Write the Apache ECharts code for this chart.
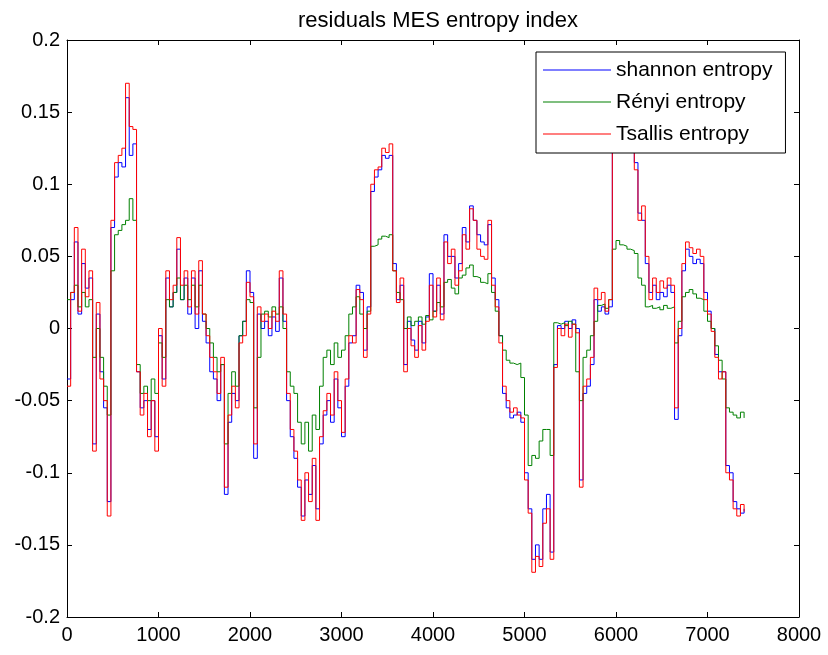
<!DOCTYPE html>
<html>
<head>
<meta charset="utf-8">
<script src="https://cdn.jsdelivr.net/npm/echarts@6/dist/echarts.min.js"></script>
<style>html,body{margin:0;padding:0;background:#fff}#chart{width:828px;height:655px}</style>
</head>
<body>
<div id="chart"></div>
<script>
var sampleX = [
0,40,80,120,160,200,240,280,320,360,
400,440,480,520,560,600,640,680,720,760,
800,840,880,920,960,1000,1040,1080,1120,1160,
1200,1240,1280,1320,1360,1400,1440,1480,1520,1560,
1600,1640,1680,1720,1760,1800,1840,1880,1920,1960,
2000,2040,2080,2120,2160,2200,2240,2280,2320,2360,
2400,2440,2480,2520,2560,2600,2640,2680,2720,2760,
2800,2840,2880,2920,2960,3000,3040,3080,3120,3160,
3200,3240,3280,3320,3360,3400,3440,3480,3520,3560,
3600,3640,3680,3720,3760,3800,3840,3880,3920,3960,
4000,4040,4080,4120,4160,4200,4240,4280,4320,4360,
4400,4440,4480,4520,4560,4600,4640,4680,4720,4760,
4800,4840,4880,4920,4960,5000,5040,5080,5120,5160,
5200,5240,5280,5320,5360,5400,5440,5480,5520,5560,
5600,5640,5680,5720,5760,5800,5840,5880,5920,5960,
6000,6040,6080,6120,6160,6200,6240,6280,6320,6360,
6400,6440,6480,6520,6560,6600,6640,6680,6720,6760,
6800,6840,6880,6920,6960,7000,7040,7080,7120,7160,
7200,7240,7280,7320,7360,7400];

var shannon = [
-0.035,0.02,0.06,0.01,0.045,0.028,0.035,-0.08,0.01,-0.03,
-0.055,-0.12,0.07,0.105,0.115,0.112,0.16,0.12,0.128,-0.03,
-0.055,-0.05,-0.07,-0.05,-0.075,-0.005,-0.035,0.035,0.015,0.025,
0.055,0.02,0.035,0.01,0.035,0.0,0.04,0.005,-0.01,-0.03,
-0.035,-0.05,-0.025,-0.115,-0.065,-0.045,-0.05,-0.005,0.005,0.04,
0.025,-0.09,0.01,0.0,0.005,-0.005,0.008,-0.002,0.035,0.005,
-0.05,-0.075,-0.09,-0.11,-0.13,-0.105,-0.115,-0.095,-0.125,-0.08,
-0.06,-0.05,-0.065,-0.035,-0.055,-0.075,-0.04,-0.01,-0.005,0.03,
0.025,-0.015,0.015,0.095,0.105,0.11,0.12,0.118,0.12,0.045,
0.02,0.03,-0.025,0.005,-0.008,-0.015,0.005,-0.01,0.008,0.038,
0.012,0.03,0.01,0.065,0.05,0.05,0.035,0.045,0.07,0.06,
0.085,0.075,0.065,0.06,0.058,0.072,0.035,0.02,-0.005,-0.045,
-0.055,-0.062,-0.06,-0.058,-0.065,-0.1,-0.125,-0.16,-0.15,-0.16,
-0.125,-0.115,-0.155,-0.025,0.002,0.0,0.005,0.0,0.006,0.0,
-0.105,-0.045,-0.04,-0.025,0.02,0.012,0.015,0.01,0.015,0.125,
0.135,0.145,0.14,0.135,0.13,0.115,0.08,0.075,0.045,0.025,
0.03,0.02,0.025,0.022,0.03,0.025,-0.063,-0.005,0.04,0.055,
0.05,0.045,0.048,0.045,0.025,0.012,0.0,-0.018,-0.03,-0.03,
-0.095,-0.1,-0.12,-0.125,-0.128,-0.125];

var renyi = [
0.02,0.025,0.03,0.015,0.025,0.015,0.02,-0.02,0.0,-0.02,
-0.04,-0.06,0.04,0.065,0.068,0.072,0.075,0.09,0.075,-0.025,
-0.045,-0.04,-0.05,-0.035,-0.045,-0.01,-0.02,0.02,0.015,0.025,
0.035,0.02,0.03,0.02,0.03,0.015,0.03,0.01,0.0,-0.01,
-0.02,-0.03,-0.025,-0.08,-0.045,-0.03,-0.04,-0.005,0.005,0.02,
0.018,-0.055,-0.02,0.01,0.012,0.008,0.015,0.01,0.015,0.0,
-0.03,-0.04,-0.045,-0.065,-0.08,-0.065,-0.085,-0.06,-0.07,-0.04,
-0.02,-0.015,-0.025,-0.01,-0.02,-0.015,-0.005,0.01,0.015,0.022,
0.01,0.0,0.012,0.057,0.058,0.062,0.064,0.063,0.065,0.04,
0.025,0.02,0.0,0.008,0.002,0.005,0.008,0.003,0.009,0.006,
0.012,0.018,0.015,0.032,0.034,0.028,0.024,0.035,0.037,0.042,
0.044,0.036,0.035,0.032,0.031,0.038,0.025,0.012,-0.005,-0.015,
-0.022,-0.024,-0.025,-0.024,-0.034,-0.06,-0.095,-0.088,-0.09,-0.078,
-0.07,-0.07,-0.088,0.004,0.003,0.004,0.002,0.005,0.003,-0.03,
-0.05,-0.02,-0.015,-0.005,0.005,0.016,0.017,0.014,0.02,0.055,
0.061,0.058,0.057,0.055,0.054,0.052,0.035,0.03,0.015,0.016,
0.014,0.015,0.013,0.016,0.014,0.015,-0.01,0.005,0.022,0.025,
0.027,0.024,0.021,0.02,0.012,0.005,0.0,-0.012,-0.022,-0.035,
-0.055,-0.058,-0.06,-0.062,-0.058,-0.062];

var tsallis = [
-0.04,0.025,0.07,0.012,0.055,0.022,0.04,-0.085,0.018,-0.035,
-0.05,-0.13,0.075,0.115,0.12,0.125,0.17,0.14,0.138,-0.03,
-0.06,-0.045,-0.075,-0.05,-0.085,0.0,-0.04,0.04,0.02,0.03,
0.063,0.03,0.04,0.015,0.04,0.01,0.047,0.01,-0.005,-0.02,
-0.03,-0.045,-0.02,-0.11,-0.06,-0.04,-0.055,-0.01,-0.005,0.032,
0.022,-0.08,0.015,0.005,0.01,0.0,0.012,0.005,0.04,0.01,
-0.045,-0.07,-0.085,-0.105,-0.133,-0.1,-0.12,-0.09,-0.133,-0.075,
-0.057,-0.045,-0.06,-0.03,-0.05,-0.072,-0.035,-0.005,-0.01,0.027,
0.02,-0.02,0.01,0.1,0.11,0.112,0.125,0.122,0.128,0.04,
0.018,0.035,-0.03,0.0,-0.012,-0.02,0.002,-0.015,0.005,0.03,
0.008,0.035,0.006,0.06,0.045,0.055,0.03,0.04,0.065,0.055,
0.083,0.075,0.055,0.05,0.048,0.075,0.03,0.015,-0.01,-0.04,
-0.05,-0.058,-0.055,-0.06,-0.062,-0.105,-0.128,-0.169,-0.158,-0.165,
-0.135,-0.125,-0.16,-0.027,0.0,-0.005,0.003,-0.006,0.003,-0.003,
-0.11,-0.04,-0.035,-0.02,0.028,0.02,0.025,0.012,0.02,0.13,
0.14,0.15,0.145,0.14,0.135,0.11,0.075,0.085,0.05,0.02,
0.035,0.025,0.033,0.028,0.035,0.03,-0.055,0.0,0.045,0.06,
0.056,0.052,0.055,0.05,0.02,0.01,-0.002,-0.02,-0.035,-0.03,
-0.1,-0.105,-0.125,-0.13,-0.122,-0.127];

var seriesNames = ['shannon entropy', 'Rényi entropy', 'Tsallis entropy'];
var seriesColors = ['#0000ff', '#008000', '#ff0000'];
var seriesValues = [shannon, renyi, tsallis];

function pairs(vals) {
  return vals.map(function (v, i) { return [sampleX[i], v]; });
}

var chart = echarts.init(document.getElementById('chart'), null, {renderer: 'canvas'});
var font = 'Liberation Sans, Arial, sans-serif';
var axisCommon = {
  axisLine: {show: true, onZero: false, lineStyle: {color: '#000', width: 1}},
  axisTick: {show: true, inside: true, length: 5, lineStyle: {color: '#000', width: 1}},
  splitLine: {show: false}
};
function yFmt(v) { return String(parseFloat(v.toFixed(2))); }
function xFmt(v) { return String(Math.round(v)); }

chart.setOption({
  backgroundColor: '#fff',
  animation: false,
  title: {
    text: 'residuals MES entropy index',
    left: 433, top: 5, textAlign: 'center',
    textStyle: {fontFamily: font, fontSize: 22, fontWeight: 'normal', color: '#000'}
  },
  legend: {
    orient: 'vertical',
    left: 536, top: 52,
    z: 20,
    padding: [7, 13, 8, 7],
    icon: 'rect',
    itemWidth: 68, itemHeight: 1, itemGap: 10, itemTextGap: 6,
    backgroundColor: '#fff', borderColor: '#000', borderWidth: 1,
    textStyle: {fontFamily: font, fontSize: 21, lineHeight: 22, color: '#000'},
    data: seriesNames
  },
  grid: {left: 67, right: 29, top: 40, bottom: 38, containLabel: false},
  xAxis: [
    Object.assign({}, axisCommon, {
      type: 'value', min: 0, max: 8000, interval: 1000, position: 'bottom',
      axisLabel: {color: '#000', fontFamily: font, fontSize: 20, margin: 8, formatter: xFmt}
    }),
    Object.assign({}, axisCommon, {
      type: 'value', min: 0, max: 8000, interval: 1000, position: 'top',
      axisLabel: {show: false}
    })
  ],
  yAxis: [
    Object.assign({}, axisCommon, {
      type: 'value', min: -0.2, max: 0.2, interval: 0.05, position: 'left',
      axisLabel: {color: '#000', fontFamily: font, fontSize: 20, margin: 7, formatter: yFmt}
    }),
    Object.assign({}, axisCommon, {
      type: 'value', min: -0.2, max: 0.2, interval: 0.05, position: 'right',
      axisLabel: {show: false}
    })
  ],
  series: seriesValues.map(function (vals, k) {
    return {
      name: seriesNames[k],
      type: 'line',
      data: pairs(vals),
      symbol: 'none',
      step: 'end',
      color: seriesColors[k],
      lineStyle: {color: seriesColors[k], width: 1},
      z: 2
    };
  })
});
</script>
</body>
</html>
